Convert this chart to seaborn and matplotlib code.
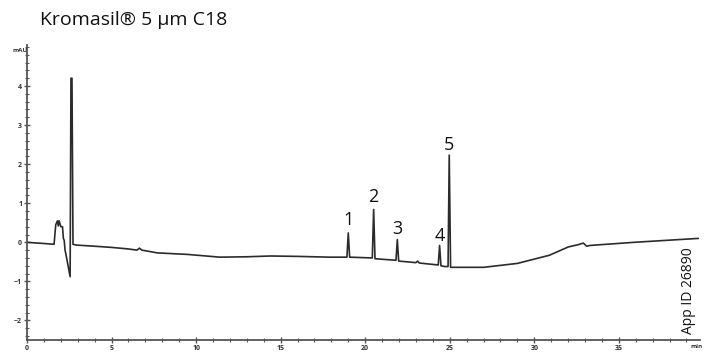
import matplotlib
matplotlib.use("Agg")
import matplotlib.pyplot as plt
from matplotlib.ticker import MultipleLocator
import pandas as pd
import seaborn as sns

# Chromatogram trace vertices: retention time (min) and detector response (mAU)
time_min = [
    0.0, 1.0, 1.6, 1.7, 1.8, 1.85, 1.9, 2.0, 2.1, 2.15, 2.2, 2.25, 2.3, 2.55,
    2.6, 2.66, 2.72, 2.9, 4.0, 5.0, 6.0, 6.5, 6.65, 6.8, 7.7, 9.5, 11.4, 13.0,
    14.4, 16.0, 17.9, 18.92, 19.0, 19.08, 20.42, 20.5, 20.58, 21.82, 21.9,
    21.98, 23.0, 23.1, 23.2, 24.32, 24.4, 24.48, 24.7, 24.9, 24.97, 25.05,
    27.0, 29.0, 30.9, 32.0, 32.6, 32.9, 33.1, 33.3, 35.9, 39.7,
]
response_mau = [
    0.0, -0.03, -0.05, 0.45, 0.55, 0.42, 0.55, 0.40, 0.40, 0.10, 0.05, -0.20,
    -0.30, -0.88, 4.20, 4.20, -0.05, -0.07, -0.10, -0.13, -0.17, -0.20, -0.15,
    -0.20, -0.27, -0.31, -0.38, -0.37, -0.35, -0.36, -0.38, -0.38, 0.24, -0.38,
    -0.40, 0.84, -0.42, -0.46, 0.07, -0.48, -0.52, -0.48, -0.53, -0.58, -0.08,
    -0.60, -0.62, -0.62, 2.23, -0.64, -0.64, -0.54, -0.33, -0.12, -0.06,
    -0.02, -0.10, -0.08, 0.0, 0.10,
]

# Numbered analyte peaks
peak_labels = ["1", "2", "3", "4", "5"]
peak_times = [19.0, 20.5, 21.9, 24.4, 24.97]
peak_heights = [0.24, 0.84, 0.07, -0.08, 2.23]

title = "Kromasil\u00ae 5 \u00b5m C18"
app_id = "App ID 26890"

df = pd.DataFrame({"time": time_min, "signal": response_mau})

sns.set_style("ticks")
plt.rcParams["font.family"] = ["Open Sans", "DejaVu Sans"]

fig = plt.figure(figsize=(7.12, 3.52), dpi=100)
ax = fig.add_axes([27 / 712, 12 / 352, 673 / 712, 295 / 352])

sns.lineplot(data=df, x="time", y="signal", ax=ax, color="#2b2b2b",
             linewidth=1.2, sort=False, estimator=None)

ax.set_xlim(0, 39.8)
ax.set_ylim(-2.5, 5.05)
ax.set_xlabel("")
ax.set_ylabel("")

for side in ("top", "right"):
    ax.spines[side].set_visible(False)
for side in ("left", "bottom"):
    ax.spines[side].set_color("#555555")
    ax.spines[side].set_linewidth(1.3)

ax.xaxis.set_major_locator(MultipleLocator(5))
ax.xaxis.set_minor_locator(MultipleLocator(1))
ax.yaxis.set_major_locator(MultipleLocator(1))
ax.yaxis.set_minor_locator(MultipleLocator(0.2))
ax.tick_params(which="major", direction="inout", length=5, width=1.0,
               color="#555555", labelsize=5, pad=1, labelcolor="#333333")
ax.tick_params(which="minor", direction="inout", length=3, width=0.8,
               color="#555555")
ax.set_yticks(range(-2, 5))
for lbl in ax.get_xticklabels() + ax.get_yticklabels():
    lbl.set_fontweight("bold")

# Peak numbers just above each apex
offsets = [0.33, 0.31, 0.27, 0.24, 0.26]
for lab, t, h, off in zip(peak_labels, peak_times, peak_heights, offsets):
    ax.text(t, h + off, lab, ha="center", va="center", fontsize=13,
            color="#111111")

fig.text(40 / 712, 1 - 20 / 352, title, ha="left", va="center",
         fontsize=14, color="#111111")
fig.text(20 / 712, 1 - 51 / 352, "mAU", ha="center", va="center",
         fontsize=4.5, fontweight="bold", color="#333333")
fig.text(697 / 712, 1 - 347 / 352, "min", ha="center", va="center",
         fontsize=4.5, fontweight="bold", color="#333333")
fig.text(689 / 712, 1 - 291 / 352, app_id, ha="center", va="center",
         rotation=90, fontsize=10, color="#111111")

fig.savefig("out.png", dpi=100)
